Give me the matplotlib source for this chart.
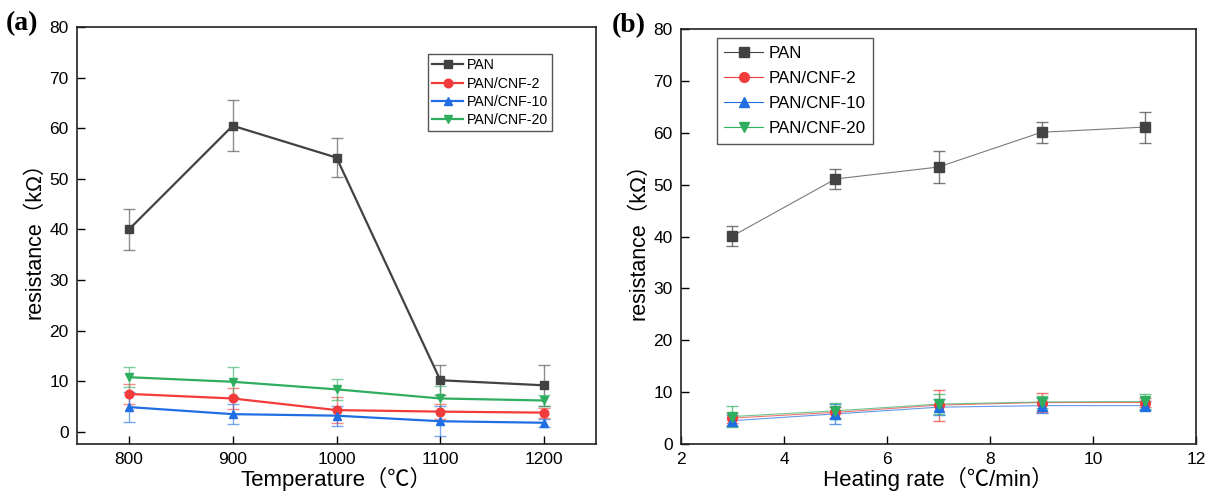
import matplotlib
matplotlib.use("Agg")
import matplotlib.pyplot as plt
import numpy as np

plt.rcParams["font.family"] = ["Liberation Sans", "Noto Sans CJK SC"]

# panel (a): resistance vs carbonisation temperature
temps = [800, 900, 1000, 1100, 1200]
a_pan = [40.0, 60.5, 54.2, 10.2, 9.2]
a_pan_err = [4.0, 5.0, 3.9, 3.0, 4.0]
a_cnf2 = [7.5, 6.6, 4.3, 4.0, 3.8]
a_cnf2_err = [2.0, 2.0, 2.5, 1.5, 1.0]
a_cnf10 = [4.9, 3.5, 3.2, 2.1, 1.8]
a_cnf10_err = [3.0, 2.0, 2.0, 3.0, 0.8]
a_cnf20 = [10.8, 9.9, 8.4, 6.6, 6.2]
a_cnf20_err = [2.0, 3.0, 2.1, 2.5, 1.0]

# panel (b): resistance vs heating rate
rates = [3, 5, 7, 9, 11]
b_pan = [40.1, 51.1, 53.4, 60.1, 61.1]
b_pan_err = [2.0, 2.0, 3.0, 2.0, 3.0]
b_cnf2 = [5.0, 6.1, 7.5, 8.0, 8.0]
b_cnf2_err = [1.0, 1.0, 3.0, 1.8, 0.8]
b_cnf10 = [4.5, 5.8, 7.1, 7.4, 7.4]
b_cnf10_err = [1.0, 2.0, 1.5, 1.5, 0.8]
b_cnf20 = [5.3, 6.4, 7.7, 8.1, 8.2]
b_cnf20_err = [2.0, 1.5, 2.0, 1.2, 1.5]

labels = ["PAN", "PAN/CNF-2", "PAN/CNF-10", "PAN/CNF-20"]
colors = ["#424242", "#f23b3b", "#1f6fe3", "#2fae5f"]
markers = ["s", "o", "^", "v"]

fig = plt.figure(figsize=(12.07, 4.94), dpi=100)
ax_a = fig.add_axes([0.0638, 0.1012, 0.430, 0.844])
ax_b = fig.add_axes([0.5642, 0.1012, 0.4267, 0.840])


def draw(ax, x, series, errs, lw, ms, line_alpha, err_alpha):
    for ys, es, lab, c, m in zip(series, errs, labels, colors, markers):
        ax.errorbar(x, ys, yerr=es, fmt="none", ecolor=c, alpha=err_alpha,
                    elinewidth=1.0, capsize=4, capthick=1.0, zorder=2)
        ax.plot(x, ys, color=c, lw=lw, alpha=line_alpha, zorder=3)
        ax.plot(x, ys, ls="none", marker=m, ms=ms, color=c, zorder=4)
        # legend proxy
        ax.plot([], [], color=c, lw=lw, marker=m, ms=ms, label=lab)


draw(ax_a, temps, [a_pan, a_cnf2, a_cnf10, a_cnf20],
     [a_pan_err, a_cnf2_err, a_cnf10_err, a_cnf20_err], 1.6, 6.2, 1.0, 0.6)
draw(ax_b, rates, [b_pan, b_cnf2, b_cnf10, b_cnf20],
     [b_pan_err, b_cnf2_err, b_cnf10_err, b_cnf20_err], 0.8, 7, 0.7, 0.7)

ax_a.set_xlim(750, 1250)
ax_a.set_ylim(-2.4, 80)
ax_a.set_xticks(temps)
ax_a.set_yticks(np.arange(0, 81, 10))
ax_a.set_xlabel("Temperature（℃）", fontsize=16, labelpad=0)
ax_a.set_ylabel("resistance（kΩ）", fontsize=15.5, labelpad=3)

ax_b.set_xlim(2, 12)
ax_b.set_ylim(0, 80)
ax_b.set_xticks(np.arange(2, 13, 2))
ax_b.set_yticks(np.arange(0, 81, 10))
ax_b.set_xlabel("Heating rate（℃/min）", fontsize=16, labelpad=0)
ax_b.set_ylabel("resistance（kΩ）", fontsize=15.5, labelpad=3)

for ax in (ax_a, ax_b):
    ax.tick_params(direction="in", length=6, width=1.0, labelsize=12.5,
                   top=False, right=False, pad=6)
    for sp in ax.spines.values():
        sp.set_linewidth(1.2)
        sp.set_color("#222222")

leg_a = ax_a.legend(loc="upper left", bbox_to_anchor=(0.676, 0.935), fontsize=10.2,
                    handlelength=2.2, handletextpad=0.25, labelspacing=0.3,
                    borderpad=0.3, borderaxespad=0, fancybox=False,
                    edgecolor="#555555", framealpha=1)
leg_b = ax_b.legend(loc="upper left", bbox_to_anchor=(0.069, 0.978), fontsize=12.2,
                    handlelength=2.3, handletextpad=0.3, labelspacing=0.6,
                    borderpad=0.45, borderaxespad=0, fancybox=False,
                    edgecolor="#555555", framealpha=1)
for leg in (leg_a, leg_b):
    leg.get_frame().set_linewidth(1.0)

fig.text(0.005, 0.953, "(a)", fontsize=20, fontweight="bold",
         family="Liberation Serif", va="center")
fig.text(0.507, 0.948, "(b)", fontsize=20, fontweight="bold",
         family="Liberation Serif", va="center")

fig.savefig("out.png", dpi=100)
